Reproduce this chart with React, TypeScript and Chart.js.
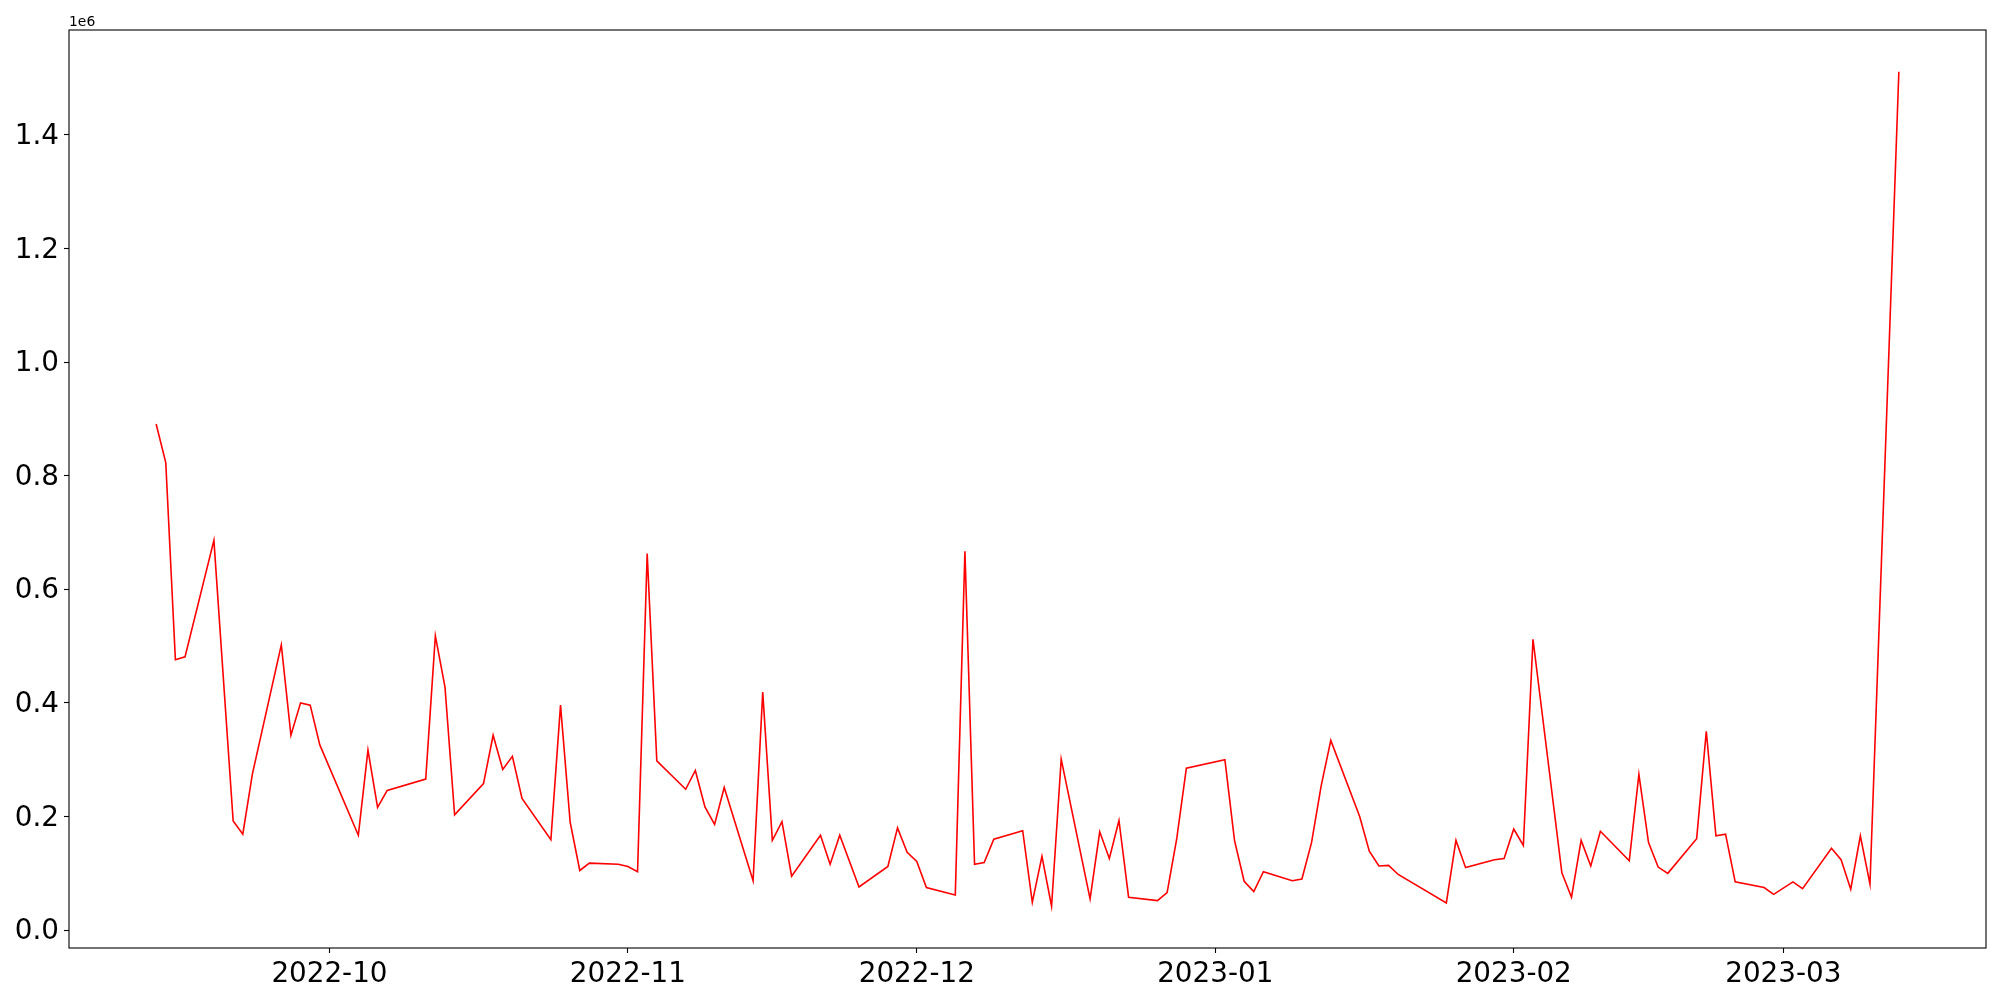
import React, { useEffect, useRef } from "react";
import Chart from "chart.js/auto";

const dates: string[] = [
  "2022-09-13", "2022-09-14", "2022-09-15", "2022-09-16", "2022-09-19", "2022-09-21", "2022-09-22", "2022-09-23",
  "2022-09-26", "2022-09-27", "2022-09-28", "2022-09-29", "2022-09-30", "2022-10-04", "2022-10-05", "2022-10-06",
  "2022-10-07", "2022-10-11", "2022-10-12", "2022-10-13", "2022-10-14", "2022-10-17", "2022-10-18", "2022-10-19",
  "2022-10-20", "2022-10-21", "2022-10-24", "2022-10-25", "2022-10-26", "2022-10-27", "2022-10-28", "2022-10-31",
  "2022-11-01", "2022-11-02", "2022-11-03", "2022-11-04", "2022-11-07", "2022-11-08", "2022-11-09", "2022-11-10",
  "2022-11-11", "2022-11-14", "2022-11-15", "2022-11-16", "2022-11-17", "2022-11-18", "2022-11-21", "2022-11-22",
  "2022-11-23", "2022-11-25", "2022-11-28", "2022-11-29", "2022-11-30", "2022-12-01", "2022-12-02", "2022-12-05",
  "2022-12-06", "2022-12-07", "2022-12-08", "2022-12-09", "2022-12-12", "2022-12-13", "2022-12-14", "2022-12-15",
  "2022-12-16", "2022-12-19", "2022-12-20", "2022-12-21", "2022-12-22", "2022-12-23", "2022-12-26", "2022-12-27",
  "2022-12-28", "2022-12-29", "2023-01-02", "2023-01-03", "2023-01-04", "2023-01-05", "2023-01-06", "2023-01-09",
  "2023-01-10", "2023-01-11", "2023-01-12", "2023-01-13", "2023-01-16", "2023-01-17", "2023-01-18", "2023-01-19",
  "2023-01-20", "2023-01-25", "2023-01-26", "2023-01-27", "2023-01-30", "2023-01-31", "2023-02-01", "2023-02-02",
  "2023-02-03", "2023-02-06", "2023-02-07", "2023-02-08", "2023-02-09", "2023-02-10", "2023-02-13", "2023-02-14",
  "2023-02-15", "2023-02-16", "2023-02-17", "2023-02-20", "2023-02-21", "2023-02-22", "2023-02-23", "2023-02-24",
  "2023-02-27", "2023-02-28", "2023-03-02", "2023-03-03", "2023-03-06", "2023-03-07", "2023-03-08", "2023-03-09",
  "2023-03-10", "2023-03-13",
];

const values: number[] = [
  891000, 823000, 476000, 481000, 686000, 192000, 169000, 275000,
  502000, 343000, 400000, 396000, 326000, 167000, 317000, 216000,
  246000, 266000, 518000, 428000, 203000, 258000, 343000, 283000,
  306000, 232000, 159000, 396000, 190000, 105000, 118000, 116000,
  112000, 103000, 663000, 298000, 248000, 281000, 217000, 186000,
  251000, 87000, 419000, 158000, 191000, 95000, 167000, 116000,
  167000, 76000, 112000, 180000, 137000, 121000, 75000, 62000,
  667000, 116000, 119000, 160000, 175000, 49000, 130000, 42000,
  301000, 55000, 173000, 126000, 193000, 58000, 52000, 66000,
  161000, 285000, 300000, 158000, 86000, 68000, 103000, 87000,
  90000, 154000, 254000, 334000, 200000, 139000, 113000, 114000,
  98000, 48000, 158000, 110000, 124000, 126000, 178000, 149000,
  512000, 101000, 58000, 158000, 113000, 174000, 122000, 274000,
  154000, 111000, 100000, 161000, 350000, 166000, 169000, 85000,
  75000, 63000, 85000, 73000, 144000, 124000, 72000, 166000,
  81000, 1511000,
];

const yTickValues: number[] = [0, 200000, 400000, 600000, 800000, 1000000, 1200000, 1400000];
const xTickDates: string[] = ["2022-10-01", "2022-11-01", "2022-12-01", "2023-01-01", "2023-02-01", "2023-03-01"];
const offsetLabel = "1e6";

const DAY = 86400000;
const toDay = (s: string) =>
  Date.UTC(+s.slice(0, 4), +s.slice(5, 7) - 1, +s.slice(8, 10)) / DAY;

const framePlugin = {
  id: "frame",
  afterDraw(chart: any) {
    const { ctx, chartArea: a } = chart;
    ctx.save();
    ctx.strokeStyle = "#000";
    ctx.lineWidth = 1.1;
    ctx.strokeRect(a.left, a.top, a.right - a.left, a.bottom - a.top);
    ctx.font = '13.9px "DejaVu Sans"';
    ctx.fillStyle = "#000";
    ctx.textAlign = "left";
    ctx.textBaseline = "alphabetic";
    ctx.fillText(offsetLabel, a.left, a.top - 4);
    ctx.restore();
  },
};

export default function App() {
  const ref = useRef<HTMLCanvasElement | null>(null);

  useEffect(() => {
    if (!ref.current) return;
    const xs = dates.map(toDay);
    const xMin0 = Math.min(...xs);
    const xMax0 = Math.max(...xs);
    const yMin0 = Math.min(...values);
    const yMax0 = Math.max(...values);
    const xm = (xMax0 - xMin0) * 0.05;
    const ym = (yMax0 - yMin0) * 0.05;
    const tickFont = { family: "DejaVu Sans", size: 27.8 };

    const chart = new Chart(ref.current, {
      type: "line",
      data: {
        datasets: [
          {
            data: xs.map((x, i) => ({ x, y: values[i] })),
            borderColor: "#ff0000",
            borderWidth: 1.6,
            pointRadius: 0,
            tension: 0,
            fill: false,
          },
        ],
      },
      options: {
        animation: false,
        responsive: false,
        devicePixelRatio: 1,
        layout: { padding: { left: 0, top: 30, right: 14, bottom: 0 } },
        plugins: { legend: { display: false }, tooltip: { enabled: false } },
        scales: {
          x: {
            type: "linear",
            min: xMin0 - xm,
            max: xMax0 + xm,
            afterBuildTicks: (s: any) => {
              s.ticks = xTickDates.map((d) => ({ value: toDay(d) }));
            },
            afterFit: (s: any) => {
              s.height = 52;
            },
            grid: {
              display: true,
              drawOnChartArea: false,
              drawTicks: true,
              tickLength: 5,
              tickWidth: 1.1,
              tickColor: "#000",
            },
            border: { display: false },
            ticks: {
              autoSkip: false,
              maxRotation: 0,
              padding: 4.7,
              color: "#000",
              font: tickFont,
              callback: (v: any) => {
                const d = new Date(Number(v) * DAY);
                return `${d.getUTCFullYear()}-${String(d.getUTCMonth() + 1).padStart(2, "0")}`;
              },
            },
          },
          y: {
            type: "linear",
            min: yMin0 - ym,
            max: yMax0 + ym,
            afterBuildTicks: (s: any) => {
              s.ticks = yTickValues.map((v) => ({ value: v }));
            },
            afterFit: (s: any) => {
              s.width = 69;
            },
            grid: {
              display: true,
              drawOnChartArea: false,
              drawTicks: true,
              tickLength: 5,
              tickWidth: 1.1,
              tickColor: "#000",
            },
            border: { display: false },
            ticks: {
              autoSkip: false,
              padding: 5,
              labelOffset: 2,
              color: "#000",
              font: tickFont,
              callback: (v: any) => (Number(v) / 1e6).toFixed(1),
            },
          },
        },
      },
      plugins: [framePlugin],
    });
    return () => chart.destroy();
  }, []);

  return (
    <div style={{ position: "fixed", left: 0, top: 0, width: 2000, height: 1000, background: "#fff" }}>
      <canvas ref={ref} width={2000} height={1000} style={{ display: "block" }} />
    </div>
  );
}
